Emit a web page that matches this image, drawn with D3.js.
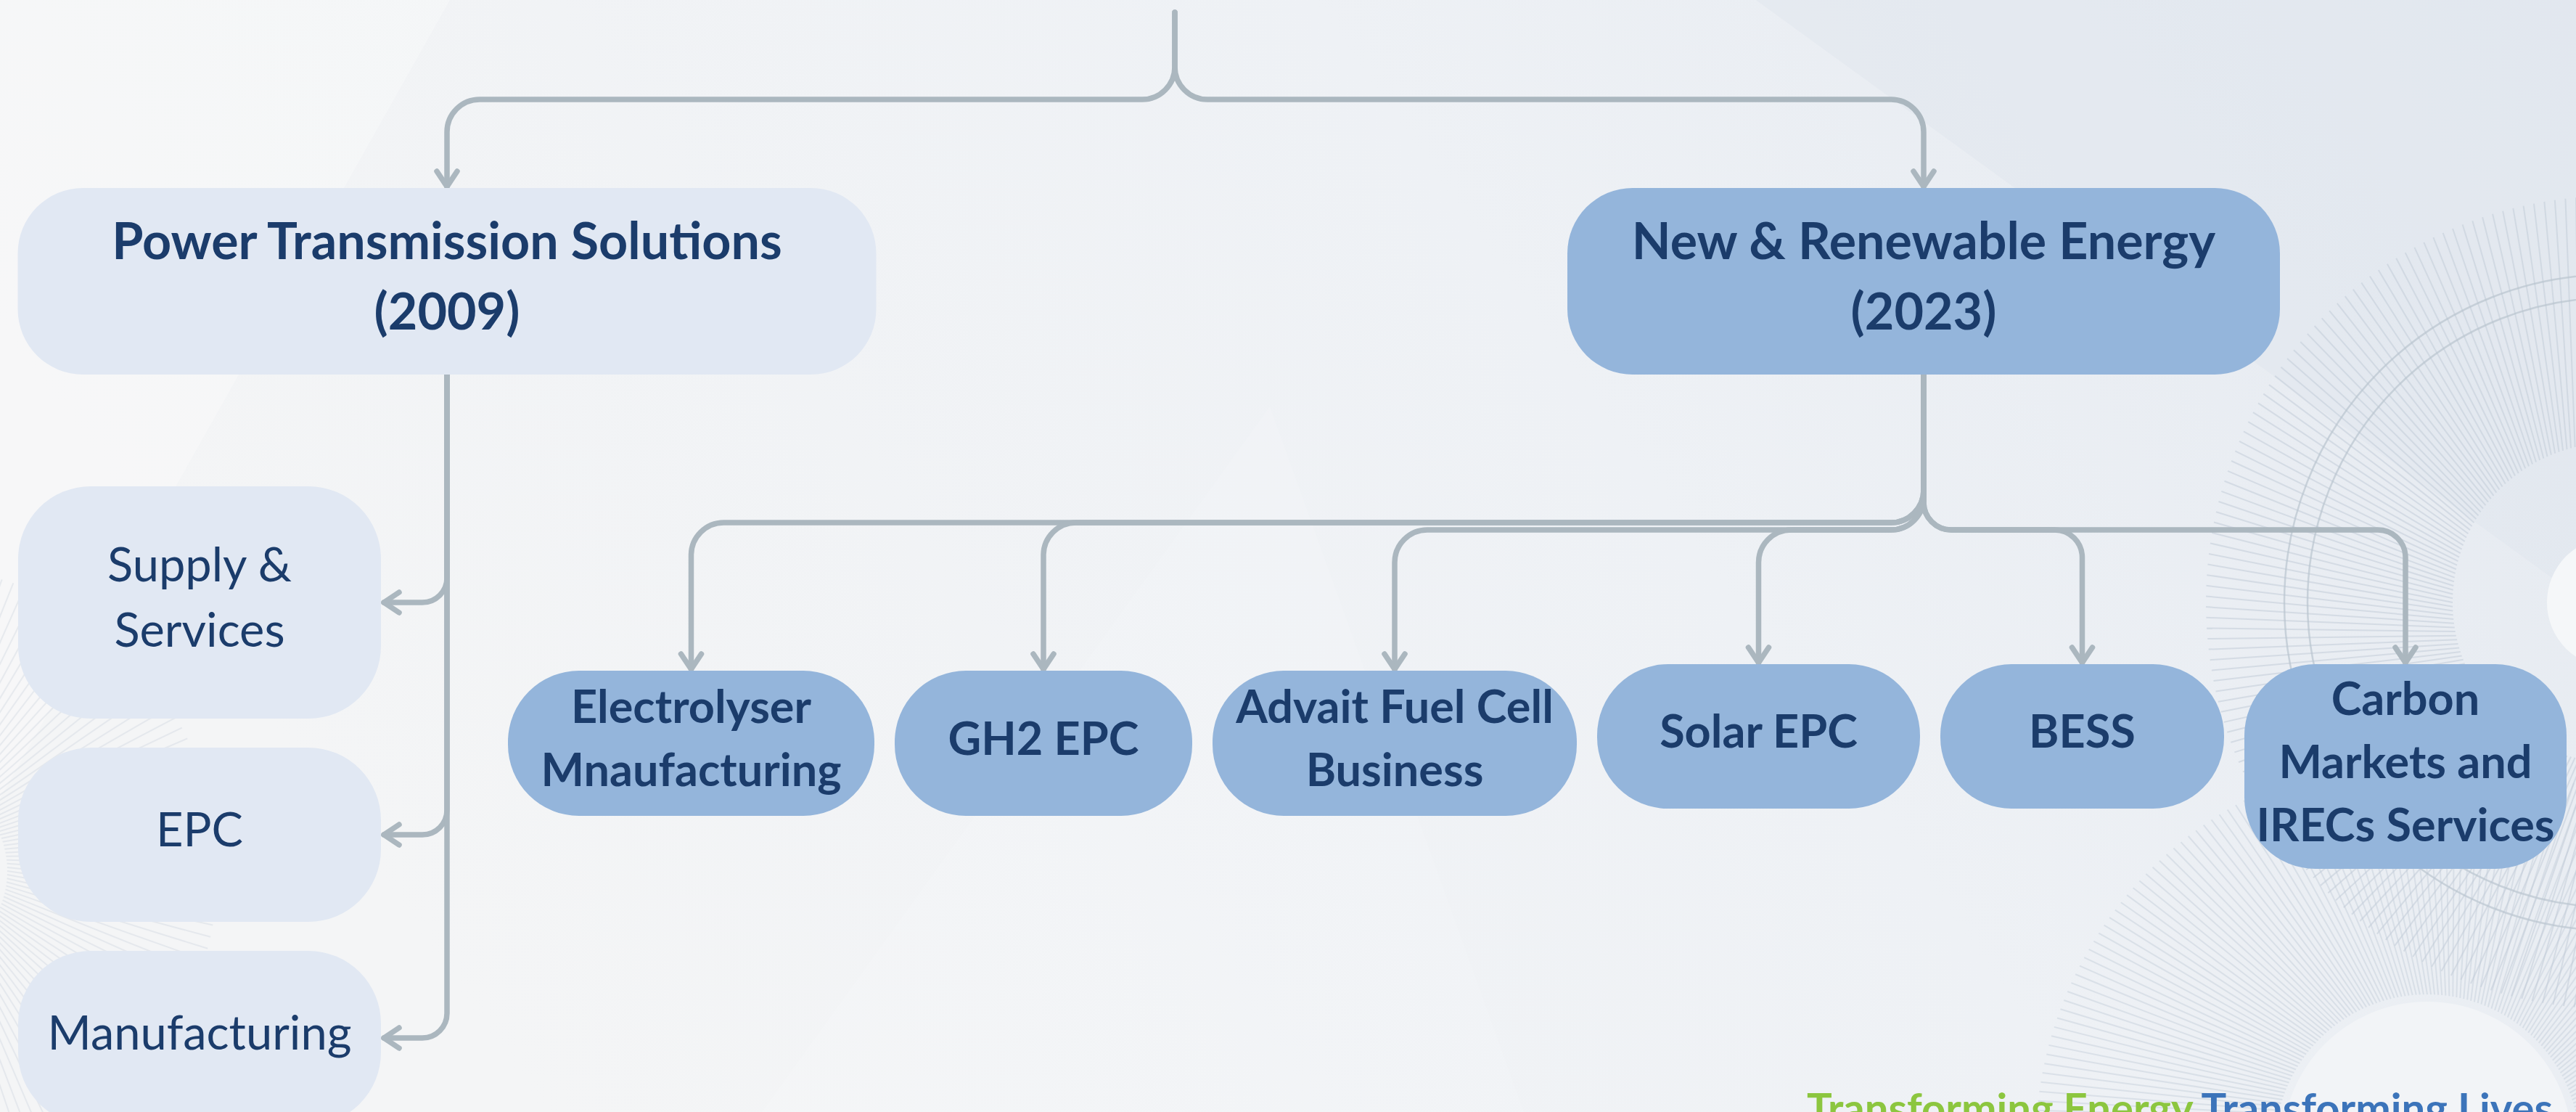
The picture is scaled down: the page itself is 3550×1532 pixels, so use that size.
<!DOCTYPE html>
<html>
<head>
<meta charset="utf-8">
<script src="https://cdn.jsdelivr.net/npm/d3@7"></script>
<style>
  html, body { margin: 0; padding: 0; background: #eef1f5; overflow: hidden; }
  svg { display: block; }
</style>
</head>
<body>
<div id="chart"></div>
<script>
// data
var divisions = ["Power Transmission Solutions", "New & Renewable Energy"];
var divisionYears = ["(2009)", "(2023)"];
var ptsUnits = ["Supply &\nServices", "EPC", "Manufacturing"];
var nreUnits = ["Electrolyser\nMnaufacturing", "GH2 EPC", "Advait Fuel Cell\nBusiness",
                "Solar EPC", "BESS", "Carbon\nMarkets and\nIRECs Services"];
var taglineParts = ["Transforming Energy", "Transforming Lives"];

// layout
var W = 3550, H = 1532;
var lineColor = "#abb7bf", textColor = "#1b3c6b",
    lightFill = "#e1e8f3", darkFill = "#94b5db";
var font = "Lato, 'Open Sans', sans-serif";

var rootX = 1619, rootY = 17, topRail = 137;
var divTop = 259, divH = 257, divW = [1183, 982];
var divX = d3.scalePoint().domain(divisions).range([616, 2651]);

var ptsW = 500, ptsLeft = 25, ptsH = [320, 240, 240], ptsGap = 40, ptsStart = 670;
var ptsTops = d3.cumsum([0].concat(ptsH.slice(0, -1).map(function(h) { return h + ptsGap; })))
  .map(function(d) { return d + ptsStart; });

var nreW = [505, 410, 502, 445, 391, 444], nreGap = 28, nreStart = 700;
var nreH = [200, 200, 200, 199, 199, 282];
var nreTop = [924, 924, 924, 915, 915, 915];
var nreRail = [720, 720, 730, 730, 730, 730];
var nreLeft = d3.cumsum([0].concat(nreW.slice(0, -1).map(function(w) { return w + nreGap; })))
  .map(function(d) { return d + nreStart; });

var svg = d3.select("#chart").append("svg")
  .attr("width", W).attr("height", H);

var defs = svg.append("defs");
var bg = defs.append("linearGradient").attr("id", "bg")
  .attr("x1", 0).attr("y1", 0.3).attr("x2", 1).attr("y2", 0);
bg.append("stop").attr("offset", 0).attr("stop-color", "#f4f5f6");
bg.append("stop").attr("offset", 0.55).attr("stop-color", "#eef1f5");
bg.append("stop").attr("offset", 1).attr("stop-color", "#e4e9f0");

defs.append("marker").attr("id", "arrow")
  .attr("markerUnits", "userSpaceOnUse")
  .attr("viewBox", "-30 -20 40 40")
  .attr("markerWidth", 40).attr("markerHeight", 40)
  .attr("refX", 0).attr("refY", 0)
  .attr("orient", "auto")
  .append("path")
  .attr("d", "M-21,-14L0,0L-21,14")
  .attr("fill", "none").attr("stroke", lineColor)
  .attr("stroke-width", 7.5).attr("stroke-linecap", "round").attr("stroke-linejoin", "round");

svg.append("rect").attr("width", W).attr("height", H).attr("fill", "url(#bg)");

// faint background shapes
var deco = svg.append("g");
deco.append("path").attr("d", "M0,0L620,0L0,1100Z").attr("fill", "#ffffff").attr("opacity", 0.25);
deco.append("path").attr("d", "M2420,0L3550,0L3550,820Z").attr("fill", "#dfe5ee").attr("opacity", 0.5);
deco.append("path").attr("d", "M1050,1532L1750,560L2100,1532Z").attr("fill", "#ffffff").attr("opacity", 0.12);

function sunburst(cx, cy, r0, r1, n, twist, op) {
  var g = deco.append("g").attr("opacity", op);
  g.selectAll("line").data(d3.range(n)).join("line")
    .attr("x1", function(d) { return cx + r0 * Math.cos(2 * Math.PI * d / n); })
    .attr("y1", function(d) { return cy + r0 * Math.sin(2 * Math.PI * d / n); })
    .attr("x2", function(d) { return cx + r1 * Math.cos(2 * Math.PI * d / n + twist); })
    .attr("y2", function(d) { return cy + r1 * Math.sin(2 * Math.PI * d / n + twist); })
    .attr("stroke", "#c3cdd9").attr("stroke-width", 2);
  return g;
}
sunburst(3600, 830, 220, 560, 240, 0.12, 0.55);
deco.append("circle").attr("cx", 3600).attr("cy", 830).attr("r", 90).attr("fill", "#f5f7f9");
deco.selectAll(".ring").data([420, 452]).join("circle")
  .attr("cx", 3600).attr("cy", 830).attr("r", function(d) { return d; })
  .attr("fill", "none").attr("stroke", "#b9c4cf").attr("stroke-width", 2.5).attr("opacity", 0.7);
sunburst(3345, 1580, 210, 540, 260, -0.1, 0.45);
deco.append("circle").attr("cx", 3345).attr("cy", 1580).attr("r", 200).attr("fill", "#f2f4f7");
sunburst(-120, 1200, 130, 420, 160, 0.1, 0.3);

// connectors
function elbow(x0, y0, rail, x1, y1, r) {
  var p = d3.path();
  p.moveTo(x0, y0);
  p.arcTo(x0, rail, x1, rail, r);
  p.arcTo(x1, rail, x1, y1, r);
  p.lineTo(x1, y1);
  return p.toString();
}
function side(x0, y0, y1, x1, r) {
  var p = d3.path();
  p.moveTo(x0, y0);
  p.arcTo(x0, y1, x1, y1, r);
  p.lineTo(x1, y1);
  return p.toString();
}

var links = svg.append("g").attr("fill", "none").attr("stroke", lineColor)
  .attr("stroke-linecap", "round").attr("marker-end", "url(#arrow)");

links.selectAll(".top").data(divisions).join("path")
  .attr("stroke-width", 7.5)
  .attr("d", function(d) { return elbow(rootX, rootY, topRail, divX(d), divTop - 2, 45); });

var ptsX = divX(divisions[0]);
links.selectAll(".pts").data(ptsUnits).join("path")
  .attr("stroke-width", 7.5)
  .attr("d", function(d, i) {
    return side(ptsX, divTop + divH, ptsTops[i] + ptsH[i] / 2, ptsLeft + ptsW + 4, 34);
  });

var nreX = divX(divisions[1]);
links.selectAll(".nre").data(nreUnits).join("path")
  .attr("stroke-width", 7.5)
  .attr("d", function(d, i) {
    return elbow(nreX, divTop + divH, nreRail[i], nreLeft[i] + nreW[i] / 2, nreTop[i] - 2, i > 3 ? 38 : 45);
  });

// boxes
function label(g, text, cx, cy, size, weight, lh) {
  var lines = text.split("\n");
  g.append("text")
    .attr("text-anchor", "middle")
    .attr("font-family", font).attr("font-weight", weight)
    .attr("font-size", size).attr("fill", textColor)
    .selectAll("tspan").data(lines).join("tspan")
    .attr("x", cx)
    .attr("y", function(d, i) { return cy + (i - (lines.length - 1) / 2) * lh + size * 0.25; })
    .text(function(d) { return d; });
}

var nodes = svg.append("g");

divisions.forEach(function(d, i) {
  var cx = divX(d), w = divW[i];
  nodes.append("rect")
    .attr("x", cx - w / 2).attr("y", divTop).attr("width", w).attr("height", divH)
    .attr("rx", 90).attr("fill", i === 0 ? lightFill : darkFill);
  label(nodes, d + "\n" + divisionYears[i], cx, divTop + divH / 2, 70, 700, 97);
});

ptsUnits.forEach(function(d, i) {
  nodes.append("rect")
    .attr("x", ptsLeft).attr("y", ptsTops[i]).attr("width", ptsW).attr("height", ptsH[i])
    .attr("rx", 100).attr("fill", lightFill);
  label(nodes, d, ptsLeft + ptsW / 2, ptsTops[i] + ptsH[i] / 2, 65, 400, 90);
});

nreUnits.forEach(function(d, i) {
  nodes.append("rect")
    .attr("x", nreLeft[i]).attr("y", nreTop[i]).attr("width", nreW[i]).attr("height", nreH[i])
    .attr("rx", 98).attr("fill", darkFill);
  label(nodes, d, nreLeft[i] + nreW[i] / 2, nreTop[i] + nreH[i] / 2, 63, 700, 87);
});

// tagline
var tag = svg.append("text")
  .attr("x", 3518).attr("y", 1548)
  .attr("text-anchor", "end")
  .attr("font-family", font).attr("font-weight", 700).attr("font-size", 58);
tag.selectAll("tspan").data(taglineParts).join("tspan")
  .attr("fill", function(d, i) { return i === 0 ? "#8cc63f" : "#3c74ba"; })
  .text(function(d, i) { return (i ? " " : "") + d; });
</script>
</body>
</html>
